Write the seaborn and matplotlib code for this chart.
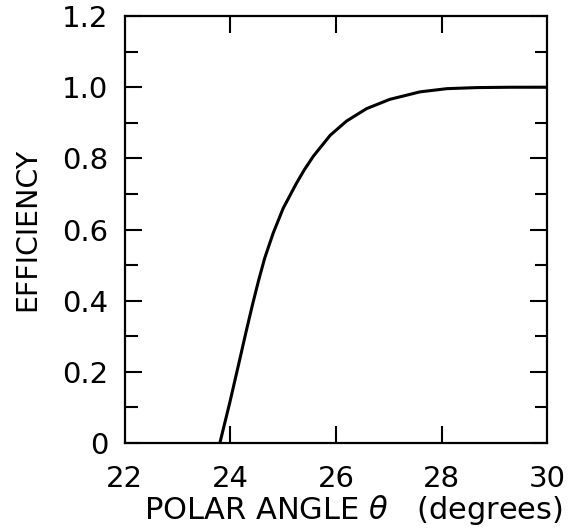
import numpy as np
import pandas as pd
import seaborn as sns
import matplotlib
matplotlib.use("Agg")
import matplotlib.pyplot as plt
from matplotlib.ticker import MultipleLocator, FixedLocator

# efficiency curve
theta = [23.80, 23.99, 24.18, 24.30, 24.42, 24.53, 24.65, 24.81, 25.0, 25.25,
         25.40, 25.57, 25.89, 26.2, 26.58, 27.02, 27.59, 28.1, 28.66, 29.3, 30.0]
efficiency = [0.0, 0.115, 0.237, 0.315, 0.39, 0.455, 0.52, 0.59, 0.66, 0.73,
              0.768, 0.806, 0.865, 0.905, 0.94, 0.966, 0.987, 0.996, 0.999, 1.0, 1.0]

x_ticks = [22, 24, 26, 28, 30]
y_ticks = [0, 0.2, 0.4, 0.6, 0.8, 1.0, 1.2]
y_tick_labels = ["0", "0.2", "0.4", "0.6", "0.8", "1.0", "1.2"]

df = pd.DataFrame({"theta": theta, "efficiency": efficiency})

sns.set_style("ticks")
plt.rcParams["font.family"] = ["DejaVu Sans"]
plt.rcParams["text.color"] = "black"
plt.rcParams["axes.labelcolor"] = "black"
plt.rcParams["xtick.color"] = "black"
plt.rcParams["ytick.color"] = "black"

fig = plt.figure(figsize=(5.7, 5.31), dpi=100)
ax = fig.add_axes([0.219, 0.1657, 0.741, 0.804])

sns.lineplot(data=df, x="theta", y="efficiency", color="black", linewidth=2.2, ax=ax)

ax.set_xlim(22, 30)
ax.set_ylim(0, 1.2)
ax.xaxis.set_major_locator(FixedLocator(x_ticks))
ax.yaxis.set_major_locator(FixedLocator(y_ticks))
ax.yaxis.set_minor_locator(MultipleLocator(0.1))
ax.set_xticklabels([str(t) for t in x_ticks])
ax.set_yticklabels(y_tick_labels)

ax.tick_params(axis="both", which="major", direction="in", length=12.5, width=1.5,
               labelsize=21, top=True, right=True)
ax.tick_params(axis="x", which="major", pad=16)
ax.tick_params(axis="y", which="major", pad=12)
ax.tick_params(axis="y", which="minor", direction="in", length=9, width=1.5,
               right=True)
# no ticks at the x ends
for t in ax.xaxis.get_major_ticks():
    if t.get_loc() in (22, 30):
        t.tick1line.set_visible(False)
        t.tick2line.set_visible(False)

for s in ax.spines.values():
    s.set_linewidth(1.6)
    s.set_color("black")

ax.set_xlabel(r"POLAR ANGLE $\theta$   (degrees)", fontsize=22)
ax.set_ylabel("EFFICIENCY", fontsize=20.5)
ax.xaxis.set_label_coords(0.54, -0.118)
ax.yaxis.set_label_coords(-0.197, 0.5)

fig.savefig("out.png", dpi=100)
